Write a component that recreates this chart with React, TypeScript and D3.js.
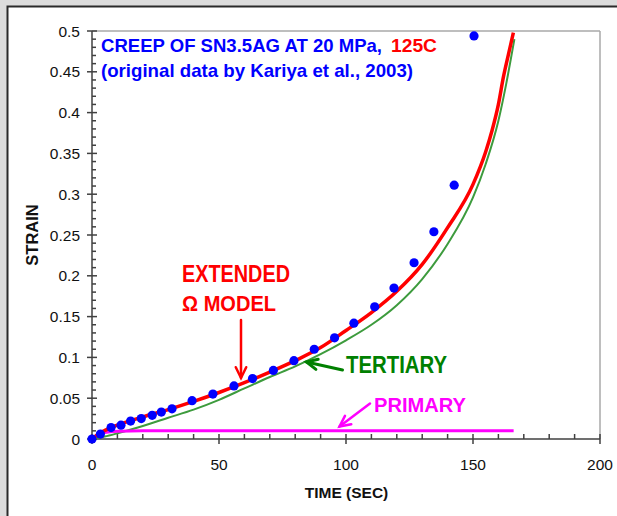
import { useMemo } from 'react';
import * as d3 from 'd3';

// measured data (time in sec, strain)
const dataTime = [0, 3.3, 7.5, 11.4, 15.2, 19.4, 23.7, 27.3, 31.5, 39.4, 47.6, 55.9, 63.2, 71.4, 79.5, 87.5, 95.5, 103.1, 111.3, 118.9, 126.8, 134.6, 142.6, 150.4];
const dataStrain = [0, 0.006, 0.014, 0.017, 0.022, 0.025, 0.029, 0.033, 0.037, 0.047, 0.055, 0.065, 0.074, 0.084, 0.096, 0.11, 0.124, 0.142, 0.162, 0.185, 0.216, 0.254, 0.311, 0.494];

// extended omega model (red)
const modelTime = [0, 3, 10, 20, 30, 40, 50, 60, 70, 80, 90, 100, 110, 120, 130, 140, 150, 155, 157.5, 160, 162, 164, 165.9];
const modelStrain = [0, 0.007, 0.017, 0.027, 0.036, 0.046, 0.057, 0.069, 0.082, 0.096, 0.112, 0.133, 0.155, 0.181, 0.214, 0.259, 0.312, 0.352, 0.378, 0.41, 0.444, 0.472, 0.498];

// tertiary component (green)
const tertTime = [0, 5, 10, 20, 30, 40, 50, 60, 70, 80, 90, 100, 110, 120, 130, 140, 150, 155, 160, 163, 166.3];
const tertStrain = [0, 0.003, 0.007, 0.016, 0.026, 0.036, 0.048, 0.062, 0.076, 0.089, 0.104, 0.121, 0.14, 0.164, 0.196, 0.239, 0.296, 0.337, 0.39, 0.434, 0.49];

// primary component (magenta)
const primTime = [0, 2, 5, 10, 20, 166];
const primStrain = [0, 0.005, 0.008, 0.0095, 0.01, 0.01];

const xTicks = [0, 50, 100, 150, 200];
const yTicks = [0, 0.05, 0.1, 0.15, 0.2, 0.25, 0.3, 0.35, 0.4, 0.45, 0.5];

const FONT = "'Liberation Sans', Arial, sans-serif";

function Arrow({ x1, y1, x2, y2, color, width = 2.5, head = 12 }: any) {
  const ang = Math.atan2(y2 - y1, x2 - x1);
  const a1 = ang + Math.PI - 0.45;
  const a2 = ang + Math.PI + 0.45;
  return (
    <g stroke={color} strokeWidth={width} fill="none" strokeLinecap="round">
      <line x1={x1} y1={y1} x2={x2} y2={y2} />
      <polyline
        points={`${x2 + head * Math.cos(a1)},${y2 + head * Math.sin(a1)} ${x2},${y2} ${x2 + head * Math.cos(a2)},${y2 + head * Math.sin(a2)}`}
      />
    </g>
  );
}

export default function App() {
  const width = 617;
  const height = 516;
  const x0 = 92, x1 = 600, y0 = 439, y1 = 31;

  const x = d3.scaleLinear().domain([0, 200]).range([x0, x1]);
  const y = d3.scaleLinear().domain([0, 0.5]).range([y0, y1]);

  const line = d3.line<[number, number]>()
    .x(d => x(d[0]))
    .y(d => y(d[1]))
    .curve(d3.curveMonotoneX);

  const paths = useMemo(() => ({
    model: line(modelTime.map((t, i) => [t, modelStrain[i]])),
    tert: line(tertTime.map((t, i) => [t, tertStrain[i]])),
    prim: line(primTime.map((t, i) => [t, primStrain[i]])),
  }), []);

  const xMinor = d3.range(0, 201, 10).filter(v => v % 50 !== 0);
  const yMinor = d3.range(0, 51).map(v => v / 100).filter((v, i) => i % 5 !== 0);
  const axisColor = '#404040';

  return (
    <svg width={width} height={height} style={{ position: 'absolute', left: 0, top: 0 }}>
      <rect x={0} y={0} width={width} height={height} fill="#dcdcdc" />
      <rect x={7.5} y={6.5} width={width + 10} height={height + 10} fill="#fff" stroke="#2a2a2a" strokeWidth={2} />

      {/* frame */}
      <line x1={x0} y1={y1} x2={x1} y2={y1} stroke="#a8a8a8" strokeWidth={1.5} />
      <line x1={x1} y1={y1} x2={x1} y2={y0} stroke="#a8a8a8" strokeWidth={1.5} />

      {/* axes */}
      <g stroke={axisColor} strokeWidth={1.5}>
        <line x1={x0} y1={y0} x2={x1} y2={y0} />
        <line x1={x0} y1={y0} x2={x0} y2={y1} />
        {xTicks.map(t => <line key={'xt' + t} x1={x(t)} x2={x(t)} y1={y0 - 5} y2={y0 + 5} />)}
        {xMinor.map(t => <line key={'xm' + t} x1={x(t)} x2={x(t)} y1={y0 - 5} y2={y0} />)}
        {yTicks.map(t => <line key={'yt' + t} x1={x0 - 5} x2={x0 + 5} y1={y(t)} y2={y(t)} />)}
        {yMinor.map(t => <line key={'ym' + t} x1={x0} x2={x0 + 4} y1={y(t)} y2={y(t)} />)}
      </g>

      <g fontFamily={FONT} fontSize={15.5} fill="#111">
        {xTicks.map(t => (
          <text key={'xl' + t} x={x(t)} y={469.5} textAnchor="middle">{t}</text>
        ))}
        {yTicks.map(t => (
          <text key={'yl' + t} x={80} y={y(t)} dy="0.36em" textAnchor="end">{t}</text>
        ))}
      </g>

      <text x={346.5} y={498} fontFamily={FONT} fontSize={15.5} fontWeight="bold" textAnchor="middle" fill="#111">TIME (SEC)</text>
      <text transform="translate(37.5,235) rotate(-90)" fontFamily={FONT} fontSize={16.5} fontWeight="bold" textAnchor="middle" fill="#111">STRAIN</text>

      {/* curves */}
      <path d={paths.tert || ''} fill="none" stroke="#3d9b3d" strokeWidth={2} />
      <path d={paths.prim || ''} fill="none" stroke="#ff00ff" strokeWidth={3} />
      <path d={paths.model || ''} fill="none" stroke="#ff0000" strokeWidth={3.5} />

      {dataTime.map((t, i) => (
        <circle key={'p' + i} cx={x(t)} cy={y(dataStrain[i])} r={4.6} fill="#0000ff" />
      ))}

      {/* title */}
      <g fontFamily={FONT} fontWeight="bold" fontSize={18.5}>
        <text x={101} y={51.7} fill="#0000ff" textLength={281} lengthAdjust="spacingAndGlyphs">CREEP OF SN3.5AG AT 20 MPa,</text>
        <text x={391} y={51.7} fill="#ff0000" textLength={46} lengthAdjust="spacingAndGlyphs">125C</text>
        <text x={101} y={76.7} fill="#0000ff" textLength={312} lengthAdjust="spacingAndGlyphs">(original data by Kariya et al., 2003)</text>
      </g>

      {/* annotations */}
      <g fontFamily={FONT} fontWeight="bold">
        <text x={182} y={281.7} fontSize={23} fill="#ff0000" textLength={108} lengthAdjust="spacingAndGlyphs">EXTENDED</text>
        <text x={182} y={311} fontSize={22.5} fill="#ff0000" textLength={94} lengthAdjust="spacingAndGlyphs">Ω MODEL</text>
        <text x={346} y={373.3} fontSize={23} fill="#008000" textLength={101} lengthAdjust="spacingAndGlyphs">TERTIARY</text>
        <text x={374} y={411.7} fontSize={21} fill="#ff00ff" textLength={92} lengthAdjust="spacingAndGlyphs">PRIMARY</text>
      </g>
      <Arrow x1={241} y1={320} x2={241} y2={378} color="#ff0000" />
      <Arrow x1={342.5} y1={370} x2={306.5} y2={362} color="#008000" width={3} />
      <Arrow x1={370} y1={403.5} x2={339.5} y2={426.5} color="#ff00ff" />
    </svg>
  );
}
